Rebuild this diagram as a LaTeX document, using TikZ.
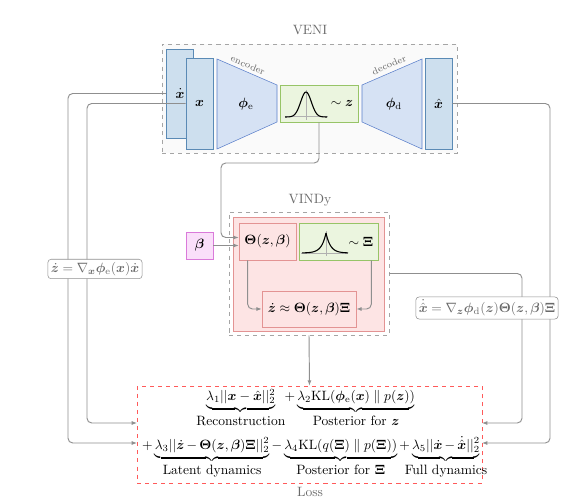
\documentclass[tikz,border=0pt]{standalone}
\usepackage{amsmath,bm}
\usepackage{tikz}
\usetikzlibrary{calc,arrows.meta}
\usetikzlibrary{positioning}

\definecolor{bfill}{HTML}{CDDFEE}
\definecolor{bbord}{HTML}{5A8AB5}
\definecolor{tfill}{HTML}{D6E2F4}
\definecolor{tbord}{HTML}{5B7FCB}
\definecolor{gfill}{HTML}{EBF5DF}
\definecolor{gbord}{HTML}{97C467}
\definecolor{rfill}{HTML}{FDE4E4}
\definecolor{rbord}{HTML}{E39393}
\definecolor{mfill}{HTML}{FADFFA}
\definecolor{mbord}{HTML}{DA7ADA}
\definecolor{lossred}{HTML}{FF5A5A}
\definecolor{lgray}{HTML}{8F8F8F}
\definecolor{tgray}{HTML}{6A6A6A}

\newcommand{\vx}{\bm{x}}
\newcommand{\vz}{\bm{z}}
\newcommand{\vbeta}{\bm{\beta}}
\newcommand{\vTheta}{\bm{\Theta}}
\newcommand{\vXi}{\bm{\Xi}}
\newcommand{\vphi}{\bm{\phi}}
\newcommand{\brlbl}[1]{\makebox[0pt]{#1}}

\begin{document}
\begin{tikzpicture}[x=0.74pt, y=-0.74pt,
blk/.style={draw=bbord, fill=bfill, minimum width=20pt, inner sep=0pt},
trap/.style={draw=tbord, fill=tfill},
gbox/.style={draw=gbord, fill=gfill, minimum height=27.4pt, inner sep=0pt},
rbox/.style={draw=rbord, fill=rfill, inner sep=0pt},
grp/.style={draw=lgray!80, dashed, inner sep=0pt},
ttl/.style={text=tgray},
myto/.style={-{Latex[length=4pt, width=3pt]}, draw=lgray, line width=0.7pt, rounded corners=3.5pt
}, eqlbl/.style={draw=lgray, fill=white, rounded corners=2.5pt, text=tgray, inner sep=2.2pt}]
\useasboundingbox (0,0) rectangle (561,502);

% VENI
\node[grp, fill=black!2, minimum width=218.3pt, minimum height=80.7pt] (veni) at (309.5,98.5){};
\node[ttl] (venit) at (310,30){VENI};
\node[blk, minimum height=65.9pt] (xdot) at (180,93.5){};
\node at (180,93.5){$\dot{\vx}$};
\node[blk, minimum height=67.3pt] (x) at (199.5,103.5){$\vx$};
\draw[trap] (217,59) -- (277,85) -- (277,122) -- (217,149) -- cycle;
\node (enc) at (246,104){$\vphi_{\mathrm{e}}$};
\node[ttl, font=\scriptsize, rotate=-23.4] (enct) at (248,65){encoder};
\node[gbox, minimum width=57.7pt] (latent) at (319,103.5){};
\draw[lgray!70, thin] (306,90) -- (306,120);
\draw[lgray!70, thin] (285,116.5) -- (328,116.5);
\draw[thick] plot[domain=-21:21, samples=60, variable=\t] ({306+\t},{117-25*exp(-(\t/7.5)^2)});
\node (latz) at (342,103.5){$\sim\vz$};
\draw[trap] (362,85) -- (422,59) -- (422,149) -- (362,122) -- cycle;
\node (dec) at (394,104){$\vphi_{\mathrm{d}}$};
\node[ttl, font=\scriptsize, rotate=23.4] (dect) at (389,65){decoder};
\node[blk, minimum height=67.3pt] (xhat) at (438.5,103.5){$\hat{\vx}$};

% VINDy
\node[grp, fill=white, minimum width=118.4pt, minimum height=91pt] (vindy) at (309,273.5){};
\node[ttl] (vindyt) at (310,200){VINDy};
\node[rbox, minimum width=111.7pt, minimum height=84.4pt] (sindy) at (308.5,274){};
\node[rbox, minimum width=42.2pt, minimum height=27.4pt] (theta) at (267.5,241.5){$\vTheta(\vz,\vbeta)$};
\node[gbox, minimum width=58.5pt] (xi) at (338.5,241.5){};
\draw[lgray!70, thin] (326,231) -- (326,256);
\draw[lgray!70, thin] (301,253) -- (348,253);
\draw[thick] plot[domain=-24:0, samples=40, variable=\t] ({326+\t},{253-20*exp(\t/4.5)});
\draw[thick] plot[domain=0:22, samples=40, variable=\t] ({326+\t},{253-20*exp(-\t/4.5)});
\node (xit) at (361,241.5){$\sim\vXi$};
\node[rbox, minimum width=69.6pt, minimum height=26.6pt] (zeq) at (309,309){$\dot{\vz}\approx\vTheta(\vz,\vbeta)\vXi$};
\node[draw=mbord, fill=mfill, minimum size=20pt, inner sep=0pt] (beta) at (199.5,245.5){$\vbeta$};

% Loss
\node[draw=lossred, dashed, minimum width=255.3pt, minimum height=71.8pt] (loss) at (309.5,434.5){};
\node[ttl] (losst) at (310,492){Loss};
\node (lossa) at (310.5,408){$\underbrace{\lambda_1||\vx-\hat{\vx}||_2^2}_{\brlbl{Reconstruction}}\enspace+\underbrace{\lambda_2\mathrm{KL}(\vphi_{\mathrm{e}}(\vx)\parallel p(\vz))}_{\brlbl{Posterior for $\vz$}}$};
\node (lossb) at (311,457.5){$\medmuskip=3mu+\underbrace{\lambda_3||\dot{\vz}-\vTheta(\vz,\vbeta)\vXi||_2^2}_{\brlbl{Latent dynamics}}-\underbrace{\lambda_4\mathrm{KL}(q(\vXi)\parallel p(\vXi))}_{\brlbl{Posterior for $\vXi$}}+\underbrace{\lambda_5||\dot{\vx}-\dot{\hat{\vx}}||_2^2}_{\brlbl{Full dynamics}}$};
\coordinate (lin1) at (137,423);
\coordinate (lin2) at (137,443);
\coordinate (rin1) at (482,423);
\coordinate (rin2) at (482,443);

% connectors
\draw[myto] (xdot.west) -| (68,443) -- (lin2);
\draw[myto] (x.west) -| (87,423) -- (lin1);
\draw[myto] (xhat.east) -| (550,443) -- (rin2);
\draw[myto] (vindy.east) -| (522,423) -- (rin1);
\draw[myto] (latent.south) |- (221,163) |- ($(theta.west)+(0,-4)$);
\draw[myto] (beta.east) -- (beta.east -| theta.west);
\draw[myto] ($(theta.south west)+(9,0)$) |- (zeq.west);
\draw[myto] ($(xi.south east)+(-7,0)$) |- (zeq.east);
\draw[myto] (vindy.south) -- (loss.north);

\node[eqlbl] (enclbl) at (95,269){$\dot{\vz}=\nabla_{\vx}\vphi_{\mathrm{e}}(\vx)\dot{\vx}$};
\node[eqlbl] (declbl) at (487,308){$\dot{\hat{\vx}}=\nabla_{\vz}\vphi_{\mathrm{d}}(\vz)\vTheta(\vz,\vbeta)\vXi$};
\end{tikzpicture}
\end{document}
